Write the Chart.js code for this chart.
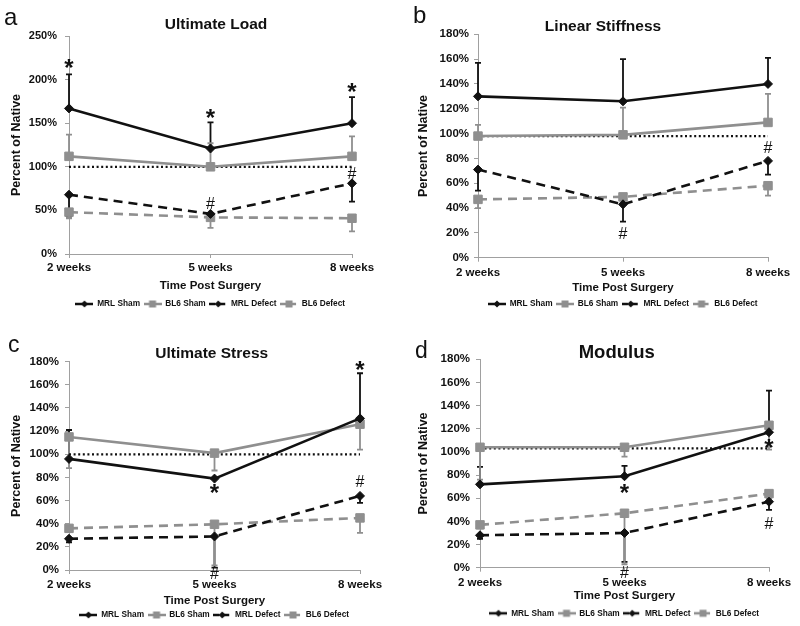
<!DOCTYPE html>
<html>
<head>
<meta charset="utf-8">
<script src="https://cdn.jsdelivr.net/npm/chart.js@4.4.1/dist/chart.umd.min.js"></script>
<style>
  html, body { margin: 0; padding: 0; background: #fff; width: 800px; height: 626px; overflow: hidden; }
  canvas { position: absolute; }
</style>
</head>
<body>
<canvas id="chartA" width="400" height="320" style="left:0;top:0"></canvas>
<canvas id="chartB" width="400" height="320" style="left:400px;top:0"></canvas>
<canvas id="chartC" width="400" height="320" style="left:0;top:310px"></canvas>
<canvas id="chartD" width="400" height="320" style="left:400px;top:310px"></canvas>
<script>
const FONT = '"Liberation Sans", Arial, sans-serif';
const BLACK = '#111111';
const GREY = '#8f8f8f';

const weeks = ['2 weeks', '5 weeks', '8 weeks'];
const seriesNames = ['MRL Sham', 'BL6 Sham', 'MRL Defect', 'BL6 Defect'];

// a - Ultimate Load (values, then error bar end points)
const loadMrlSham = [167, 121, 150];
const loadMrlShamErr = [206, 151, 180];
const loadBl6Sham = [112, 100, 112];
const loadBl6ShamErr = [137, 127, 135];
const loadMrlDefect = [68, 46, 81];
const loadMrlDefectErr = [43, 40, 60];
const loadBl6Defect = [48, 42, 41];
const loadBl6DefectErr = [41, 30, 26];
const loadNative = [100, 100, 100];
const loadTicks = ['0%', '50%', '100%', '150%', '200%', '250%'];
const loadMarks = [['*', 0, 219], ['*', 1, 161], ['*', 2, 191], ['#', 1, 59], ['#', 2, 93]];

// b - Linear Stiffness
const stiffMrlSham = [130, 126, 140];
const stiffMrlShamErr = [157, 160, 161];
const stiffBl6Sham = [98, 99, 109];
const stiffBl6ShamErr = [107, 121, 132];
const stiffMrlDefect = [71, 43, 78];
const stiffMrlDefectErr = [54, 29, 67];
const stiffBl6Defect = [47, 49, 58];
const stiffBl6DefectErr = [40, 44, 50];
const stiffNative = [98, 98, 98];
const stiffMarks = [['#', 1, 20], ['#', 2, 89]];

// c - Ultimate Stress
const stressMrlSham = [96, 79, 131];
const stressMrlShamErr = [121, null, 170];
const stressBl6Sham = [115, 101, 126];
const stressBl6ShamErr = [88, 86, 104];
const stressMrlDefect = [27, 29, 64];
const stressMrlDefectErr = [24, 2, 58];
const stressBl6Defect = [36, 39.5, 45];
const stressBl6DefectErr = [33, 4, 32];
const stressNative = [100, 100, 100];
const stressMarks = [['*', 2, 177], ['*', 1, 70], ['#', 2, 77], ['#', 1, -3]];

// d - Modulus
const modMrlSham = [72, 79, 117];
const modMrlShamErr = [87, 88, 153];
const modBl6Sham = [104, 104, 123];
const modBl6ShamErr = [76, 96, 102];
const modMrlDefect = [28, 30, 57];
const modMrlDefectErr = [25, 5, 50];
const modBl6Defect = [37, 47, 64];
const modBl6DefectErr = [34, 3, 60];
const modNative = [103, 103, 103];
const modMarks = [['*', 1, 68.5], ['*', 2, 107], ['#', 2, 39], ['#', 1, -4]];

const pctTicks = ['0%', '20%', '40%', '60%', '80%', '100%', '120%', '140%', '160%', '180%'];

// little line+marker pictures for the legend
function legendSymbol(color, dashed, shape) {
  const c = document.createElement('canvas');
  c.width = 18; c.height = 10;
  const g = c.getContext('2d');
  g.strokeStyle = color;
  g.fillStyle = color;
  g.lineWidth = 2.5;
  if (dashed) g.setLineDash([6, 4]);
  g.beginPath(); g.moveTo(0, 5); g.lineTo(18, 5); g.stroke();
  g.beginPath();
  if (shape === 'diamond') {
    g.moveTo(9, 1.5); g.lineTo(12.5, 5); g.lineTo(9, 8.5); g.lineTo(5.5, 5);
  } else {
    g.rect(5.5, 1.5, 7, 7);
  }
  g.fill();
  return c;
}
const legendSymbols = [
  legendSymbol(BLACK, false, 'diamond'),
  legendSymbol(GREY, false, 'square'),
  legendSymbol(BLACK, true, 'diamond'),
  legendSymbol(GREY, true, 'square')
];

const errorBars = {
  id: 'errorBars',
  beforeDatasetsDraw(chart) {
    const { ctx, scales: { x, y } } = chart;
    chart.data.datasets.forEach(ds => {
      if (!ds.errEnd) return;
      ds.errEnd.forEach((end, j) => {
        if (end == null) return;
        const px = x.getPixelForValue(j);
        const y0 = y.getPixelForValue(ds.data[j]);
        const y1 = y.getPixelForValue(end);
        ctx.save();
        ctx.strokeStyle = ds.borderColor;
        ctx.lineWidth = 1.8;
        ctx.beginPath();
        ctx.moveTo(px, y0); ctx.lineTo(px, y1);
        ctx.moveTo(px - 3, y1); ctx.lineTo(px + 3, y1);
        ctx.stroke();
        ctx.restore();
      });
    });
  }
};

const marks = {
  id: 'marks',
  afterDatasetsDraw(chart, args, opts) {
    const { ctx, scales: { x, y } } = chart;
    ctx.save();
    ctx.fillStyle = BLACK;
    ctx.textAlign = 'center';
    ctx.textBaseline = 'alphabetic';
    opts.items.forEach(([sym, i, v]) => {
      ctx.font = sym === '*' ? 'bold 24px ' + FONT : '16px ' + FONT;
      const m = ctx.measureText(sym);
      const cy = y.getPixelForValue(v);
      ctx.fillText(sym, x.getPixelForValue(i), cy + (m.actualBoundingBoxAscent - m.actualBoundingBoxDescent) / 2);
    });
    ctx.restore();
  }
};

const panelText = {
  id: 'panelText',
  afterDraw(chart, args, opts) {
    const ctx = chart.ctx;
    ctx.save();
    ctx.fillStyle = BLACK;
    ctx.textBaseline = 'alphabetic';
    ctx.textAlign = 'left';
    ctx.font = opts.letterSize + 'px ' + FONT;
    ctx.fillText(opts.letter, opts.letterX, opts.letterY);
    ctx.textAlign = 'center';
    ctx.textBaseline = 'middle';
    ctx.font = 'bold ' + opts.titleSize + 'px ' + FONT;
    ctx.fillText(opts.title, opts.titleX, opts.titleY);
    ctx.restore();
  }
};

function series(label, data, errEnd, color, dash, shape, radius) {
  return {
    label, data, errEnd,
    borderColor: color, backgroundColor: color,
    borderWidth: 2.6, borderDash: dash,
    pointStyle: shape, pointRadius: radius,
    pointBackgroundColor: color, pointBorderColor: color, pointBorderWidth: 1,
    tension: 0, clip: false
  };
}

function drawPanel(id, p) {
  const W = 400, H = 320;
  const legFs = 8.3, legPad = 4;
  const legTop = p.legendY - legPad - legFs / 2;
  const legH = legFs + legPad + 10;
  const xFs = 11.5, xTitleFs = 11.5, yTitleFs = 12.5;
  const yTicks = p.ticks;
  const yMin = parseFloat(yTicks[0]);
  const yMax = parseFloat(yTicks[yTicks.length - 1]);
  const yStep = parseFloat(yTicks[1]) - yMin;

  new Chart(document.getElementById(id), {
    type: 'line',
    data: {
      labels: weeks,
      datasets: [
        series(seriesNames[0], p.data[0], p.err[0], BLACK, [], 'rectRot', 4.5),
        series(seriesNames[1], p.data[1], p.err[1], GREY, [], 'rect', 6),
        series(seriesNames[2], p.data[2], p.err[2], BLACK, [9, 6], 'rectRot', 4.5),
        series(seriesNames[3], p.data[3], p.err[3], GREY, [9, 6], 'rect', 6),
        { label: 'Native', data: p.native, borderColor: BLACK, borderWidth: 2.2, borderDash: [2, 2.6], pointRadius: 0, clip: false }
      ]
    },
    options: {
      responsive: false,
      animation: false,
      events: [],
      layout: { padding: { left: 0, top: p.plotTop, right: W - p.plotRight, bottom: H - legTop - legH } },
      plugins: {
        legend: {
          position: 'bottom',
          fullSize: false,
          labels: {
            usePointStyle: true,
            pointStyleWidth: 17,
            padding: legPad,
            color: BLACK,
            font: { family: FONT, size: legFs, weight: 'bold' },
            generateLabels: () => seriesNames.map((t, i) => ({
              text: t, pointStyle: legendSymbols[i], datasetIndex: i, hidden: false,
              lineWidth: 0, strokeStyle: 'rgba(0,0,0,0)', fillStyle: 'rgba(0,0,0,0)', fontColor: BLACK
            }))
          }
        },
        tooltip: { enabled: false },
        marks: { items: p.marks },
        panelText: p.text
      },
      scales: {
        x: {
          offset: false,
          grid: { drawOnChartArea: false, tickLength: 4, color: '#a0a0a0' },
          border: { color: '#a0a0a0', width: 1 },
          ticks: {
            autoSkip: false, maxRotation: 0,
            color: BLACK, font: { family: FONT, size: xFs, weight: 'bold' },
            padding: p.xLabY - p.plotBottom - 4 - xFs * 0.6
          },
          title: {
            display: true, text: 'Time Post Surgery', color: BLACK,
            font: { family: FONT, size: xTitleFs, weight: 'bold' },
            padding: { top: 0, bottom: legTop - p.xTitleY - xTitleFs * 0.6 }
          },
          afterFit(s) { s.height = legTop - p.plotBottom; }
        },
        y: {
          min: yMin, max: yMax,
          grid: { drawOnChartArea: false, tickLength: 4, color: '#a0a0a0' },
          border: { color: '#a0a0a0', width: 1 },
          ticks: {
            stepSize: yStep,
            callback: (v, i) => yTicks[i],
            color: BLACK, font: { family: FONT, size: p.yFs, weight: 'bold' },
            padding: p.yTickPad
          },
          title: {
            display: true, text: 'Percent of Native', color: BLACK,
            font: { family: FONT, size: yTitleFs, weight: 'bold' },
            padding: { top: p.yTitleX - yTitleFs * 0.6, bottom: 0 }
          },
          afterFit(s) { s.width = p.plotLeft; }
        }
      }
    },
    plugins: [errorBars, marks, panelText]
  });
}

drawPanel('chartA', {
  data: [loadMrlSham, loadBl6Sham, loadMrlDefect, loadBl6Defect],
  err: [loadMrlShamErr, loadBl6ShamErr, loadMrlDefectErr, loadBl6DefectErr],
  native: loadNative, ticks: loadTicks, marks: loadMarks,
  plotLeft: 69, plotRight: 352, plotTop: 36, plotBottom: 254,
  legendY: 304, xLabY: 268, xTitleY: 285.7, yTitleX: 16.5, yTickPad: 8, yFs: 11,
  text: { letter: 'a', letterX: 4, letterY: 25, letterSize: 24, title: 'Ultimate Load', titleX: 216, titleY: 25, titleSize: 15.5 }
});

drawPanel('chartB', {
  data: [stiffMrlSham, stiffBl6Sham, stiffMrlDefect, stiffBl6Defect],
  err: [stiffMrlShamErr, stiffBl6ShamErr, stiffMrlDefectErr, stiffBl6DefectErr],
  native: stiffNative, ticks: pctTicks, marks: stiffMarks,
  plotLeft: 78, plotRight: 368, plotTop: 34.3, plotBottom: 257.7,
  legendY: 304, xLabY: 272.7, xTitleY: 288.3, yTitleX: 23.3, yTickPad: 5, yFs: 11.5,
  text: { letter: 'b', letterX: 13, letterY: 23, letterSize: 24, title: 'Linear Stiffness', titleX: 203, titleY: 26.7, titleSize: 15.5 }
});

drawPanel('chartC', {
  data: [stressMrlSham, stressBl6Sham, stressMrlDefect, stressBl6Defect],
  err: [stressMrlShamErr, stressBl6ShamErr, stressMrlDefectErr, stressBl6DefectErr],
  native: stressNative, ticks: pctTicks, marks: stressMarks,
  plotLeft: 69, plotRight: 360, plotTop: 51.7, plotBottom: 260,
  legendY: 305, xLabY: 275, xTitleY: 291, yTitleX: 16.7, yTickPad: 6, yFs: 11.5,
  text: { letter: 'c', letterX: 8, letterY: 42, letterSize: 23, title: 'Ultimate Stress', titleX: 211.7, titleY: 43.3, titleSize: 15.5 }
});

drawPanel('chartD', {
  data: [modMrlSham, modBl6Sham, modMrlDefect, modBl6Defect],
  err: [modMrlShamErr, modBl6ShamErr, modMrlDefectErr, modBl6DefectErr],
  native: modNative, ticks: pctTicks, marks: modMarks,
  plotLeft: 80, plotRight: 369, plotTop: 49.3, plotBottom: 257.7,
  legendY: 303.3, xLabY: 272.7, xTitleY: 285.7, yTitleX: 23.3, yTickPad: 6, yFs: 11.5,
  text: { letter: 'd', letterX: 15, letterY: 48, letterSize: 23, title: 'Modulus', titleX: 216.7, titleY: 43.3, titleSize: 18.5 }
});
</script>
</body>
</html>
